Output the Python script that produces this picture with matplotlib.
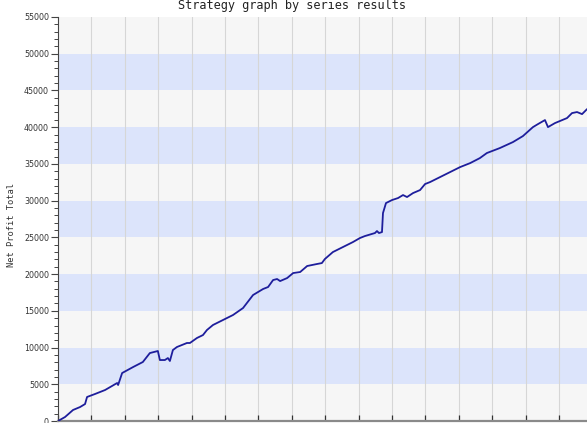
import matplotlib
matplotlib.use("Agg")
import matplotlib.pyplot as plt
from matplotlib.ticker import MultipleLocator, NullFormatter

# trade number vs. cumulative net profit
trades = [0, 2.1, 4.5, 6.6, 8.1, 8.7, 11.1, 14.1, 17.7, 18.0, 19.2, 22.5, 25.4,
          27.5, 29.9, 30.5, 32.0, 32.9, 33.5, 34.4, 35.6, 38.6, 39.5, 41.6,
          43.4, 44.6, 46.4, 49.4, 52.4, 55.4, 58.4, 61.4, 62.9, 64.4, 65.6,
          66.5, 68.6, 70.4, 72.5, 74.6, 77.5, 79.0, 79.9, 82.3, 85.3, 88.3,
          90.4, 91.9, 94.9, 95.5, 96.1, 97.0, 97.3, 98.2, 100.0, 101.8, 103.3,
          104.5, 106.3, 108.4, 109.9, 111.4, 114.4, 117.4, 120.4, 123.4,
          126.3, 128.4, 132.3, 136.2, 139.2, 142.2, 143.7, 145.8, 146.7,
          148.8, 152.4, 153.9, 155.4, 156.9, 158.4, 159.3]
profit = [0, 540, 1500, 1900, 2310, 3270, 3680, 4220, 5170, 4900, 6530, 7350,
          8030, 9250, 9530, 8300, 8300, 8570, 8170, 9660, 10070, 10620, 10620,
          11300, 11700, 12390, 13070, 13750, 14430, 15380, 17150, 17970, 18240,
          19190, 19330, 19050, 19460, 20140, 20280, 21100, 21370, 21500, 22050,
          23000, 23680, 24360, 24910, 25180, 25590, 25860, 25590, 25720, 28310,
          29670, 30080, 30350, 30760, 30490, 31030, 31440, 32260, 32530, 33210,
          33890, 34570, 35110, 35790, 36480, 37160, 37970, 38790, 40010, 40420,
          40970, 40010, 40560, 41240, 41920, 42060, 41780, 42460, 42600]

y_max = 55000
band = 5000

fig = plt.figure(figsize=(5.87, 4.23), dpi=100)
fig.patch.set_facecolor("white")
# plot area runs past the right edge of the picture, like the reference
ax = fig.add_axes([58 / 587, 2 / 423, 534.4 / 587, 404 / 423])
ax.set_facecolor("#f6f6f6")

for lo in range(band, y_max, 2 * band):
    ax.axhspan(lo, lo + band, color="#dce4fb", lw=0, zorder=0)

ax.set_xlim(0, 160)
ax.set_ylim(0, y_max)
ax.xaxis.set_major_locator(MultipleLocator(10))
ax.yaxis.set_major_locator(MultipleLocator(5000))
ax.yaxis.set_minor_locator(MultipleLocator(1000))
ax.xaxis.set_major_formatter(NullFormatter())
ax.grid(axis="x", color="#d6d6d6", lw=0.8, zorder=1)
ax.set_axisbelow(True)

ax.plot(trades, profit, color="#1e1e9c", lw=1.3, zorder=3)

for s in ["top", "right"]:
    ax.spines[s].set_visible(False)
ax.spines["left"].set_color("#444444")
ax.spines["left"].set_linewidth(0.8)
ax.spines["bottom"].set_color("#8a8a8a")
ax.spines["bottom"].set_linewidth(1.6)

ax.tick_params(axis="y", which="major", direction="out", length=5, width=0.8,
               color="#444444", labelsize=5.7, labelcolor="#333333", pad=1.5)
ax.tick_params(axis="y", which="minor", direction="out", length=3, width=0.7,
               color="#444444")
ax.tick_params(axis="x", direction="in", length=4, width=0.9, color="#333333")

# title sits partly above the top edge, as in the reference
fig.text(292 / 587, 1 - 9 / 423, "Strategy graph by series results",
         ha="center", va="baseline", fontsize=8.6, family="DejaVu Sans Mono",
         color="#222222")
fig.text(12 / 587, 1 - 225 / 423, "Net Profit Total", rotation=90,
         ha="center", va="center", fontsize=6.3, family="DejaVu Sans Mono",
         color="#333333")

fig.savefig("out.png", dpi=100)
